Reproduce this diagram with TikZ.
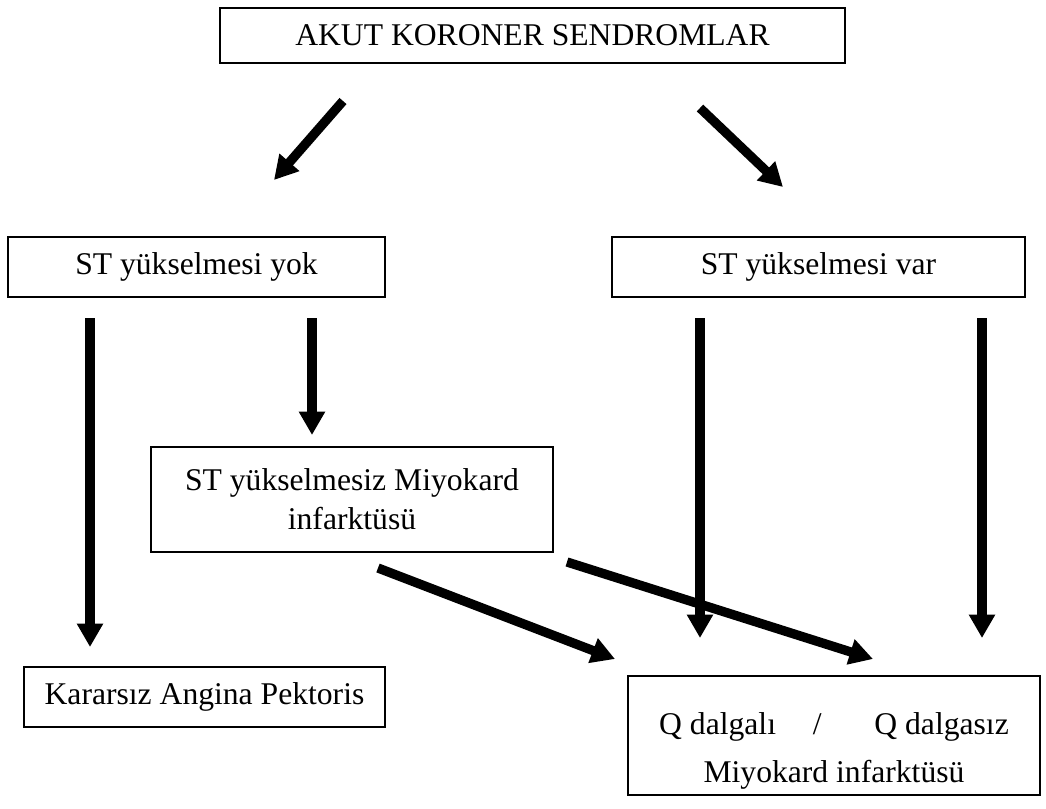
\documentclass[tikz,border=0pt]{standalone}
\usepackage{fontspec}
\setmainfont{Liberation Serif}
\usetikzlibrary{arrows.meta,calc,positioning}
\tikzstyle{box} = [rectangle, draw=black, line width=0.9pt, inner sep=0pt, align=center, font=\fontsize{18}{22}\selectfont]
\tikzstyle{arrow} = [line width=5.3pt, -{Triangle[length=0.47cm,width=0.5cm]}]

\begin{document}
\begin{tikzpicture}[x=0.02cm,y=-0.02cm]
\useasboundingbox (0,0) rectangle (1046,809);
% boxes
\node (acs) at (532.5,35.5) [box, minimum width=12.5cm, minimum height=1.1cm] {AKUT KORONER SENDROMLAR};
\node (styok) at (196.5,267) [box, minimum width=7.54cm, minimum height=1.2cm] {ST yükselmesi yok};
\node (stvar) at (818.5,267) [box, minimum width=8.26cm, minimum height=1.2cm] {ST yükselmesi var};
\node (nstemi) at (352,499.5) [box, minimum width=8.04cm, minimum height=2.1cm] {ST yükselmesiz Miyokard\\infarktüsü};
\node (kap) at (204.5,697) [box, minimum width=7.22cm, minimum height=1.2cm] {Kararsız Angina Pektoris};
\node (qmi) at (834,735.5) [box, minimum width=8.24cm, minimum height=2.38cm] {\rule{0pt}{30pt}Q dalgalı\hspace{21pt}/\hspace{30pt}Q dalgasız\\[5pt]Miyokard infarktüsü};
% arrow ends
\coordinate (s1) at (343,101);  \coordinate (e1) at (274,180);
\coordinate (s2) at (700,108);  \coordinate (e2) at (783,187);
\coordinate (s3) at (90,318);   \coordinate (e3) at (90,647);
\coordinate (s4) at (312,318);  \coordinate (e4) at (312,435);
\coordinate (s5) at (700,318);  \coordinate (e5) at (700,638);
\coordinate (s6) at (982,318);  \coordinate (e6) at (982,638);
\coordinate (s7) at (378,568);  \coordinate (e7) at (615,659);
\coordinate (s8) at (567,562);  \coordinate (e8) at (873,659);
\draw[arrow] (s1) -- (e1);
\draw[arrow] (s2) -- (e2);
\draw[arrow] (s3) -- (e3);
\draw[arrow] (s4) -- (e4);
\draw[arrow] (s5) -- (e5);
\draw[arrow] (s6) -- (e6);
\draw[arrow] (s7) -- (e7);
\draw[arrow] (s8) -- (e8);
\end{tikzpicture}
\end{document}
